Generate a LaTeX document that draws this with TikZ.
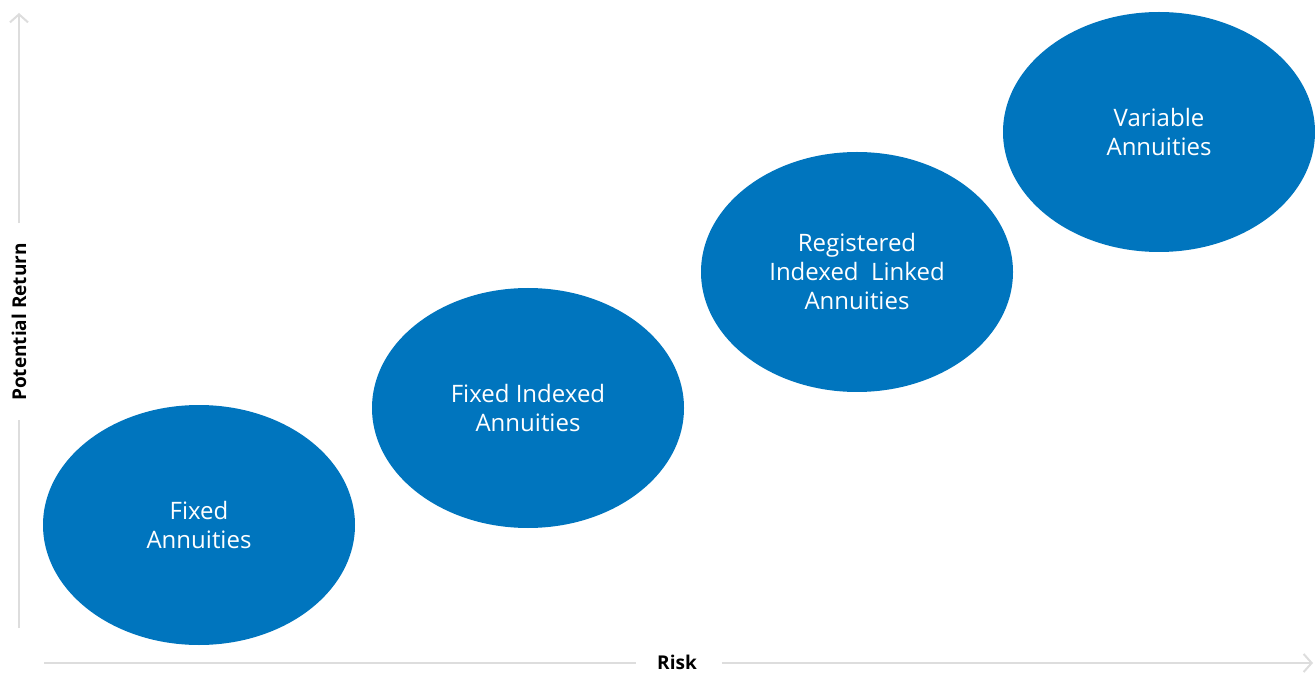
\documentclass[tikz,border=0pt]{standalone}
\usepackage{fontspec}
\setmainfont{Open Sans}
\usetikzlibrary{arrows.meta,positioning,shapes.geometric}
\definecolor{annblue}{HTML}{0075BE}
\definecolor{axisgray}{HTML}{DDDDDD}

\begin{document}
\begin{tikzpicture}[%
    x=1pt, y=1pt,                 % Work in pixels of the reference
    >={Straight Barb[length=8pt,width=18pt,line width=2pt]},
    ]
% -------------------------------------------------
% A few styles
\tikzset{
  blob/.style={ellipse, fill=annblue, text=white, align=center,
    minimum width=312pt, minimum height=240pt, inner sep=0pt,
    font=\fontsize{24}{29}\selectfont},
  axis/.style={draw=axisgray, line width=2.5pt},
  axlabel/.style={font=\bfseries\fontsize{19}{22}\selectfont, inner sep=0pt}
}
\useasboundingbox (0,0) rectangle (1315,673);
% -------------------------------------------------
% Axes with their labels in the gaps
\node [axlabel, rotate=90] (ret) at (19,351) {Potential Return};
\node [axlabel] (risk) at (677,11) {Risk};
\coordinate (ybot) at (19,45);
\coordinate (ytop) at (19,660);
\coordinate (xleft) at (44,10);
\coordinate (xright) at (1313,10);

\draw[axis] (ybot) -- ([yshift=-19pt]ret.west);
\draw[axis,->] ([yshift=20pt]ret.east) -- (ytop);
\draw[axis] (xleft) -- ([xshift=-21pt]risk.west |- xleft);
\draw[axis,->] ([xshift=25pt]risk.east |- xright) -- (xright);
% -------------------------------------------------
% The four kinds of annuities, low to high risk
\node [blob] (fa) at (199,148) {Fixed\\Annuities};
\node [blob] (fia) at (528,265) {Fixed Indexed\\Annuities};
\node [blob] (rila) at (857,401) {Registered\\Indexed\ \ Linked\\Annuities};
\node [blob] (va) at (1159,541) {Variable\\Annuities};
% -------------------------------------------------
\end{tikzpicture}
\end{document}
